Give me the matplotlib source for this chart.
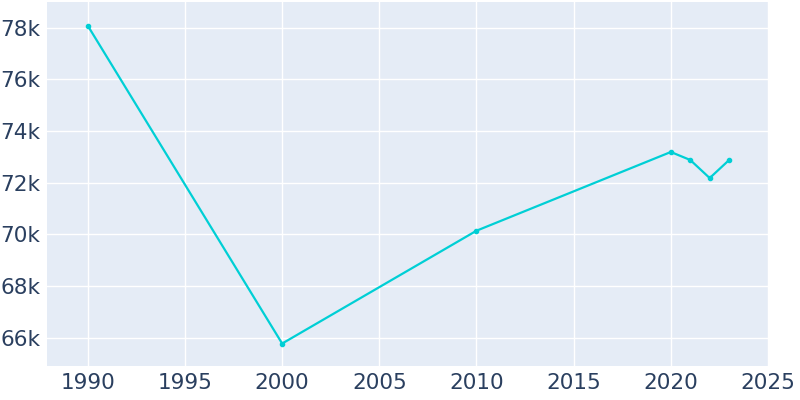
import matplotlib
matplotlib.use("Agg")
import matplotlib.pyplot as plt
from matplotlib.ticker import FuncFormatter

years = [1990, 2000, 2010, 2020, 2021, 2022, 2023]
population = [78080, 65770, 70140, 73190, 72880, 72180, 72880]

fig = plt.figure(figsize=(8, 4), dpi=100)
ax = fig.add_axes([47/800, 34/400, (768-47)/800, (366-2)/400])
ax.set_facecolor("#e5ecf6")
ax.plot(years, population, color="#00cfd5", lw=1.6, marker="o", ms=3)
ax.set_xlim(1987.9, 2025)
ax.set_ylim(64900, 79000)
ax.set_xticks(range(1990, 2026, 5))
ax.set_yticks(range(66000, 78001, 2000))
ax.yaxis.set_major_formatter(FuncFormatter(lambda v, p: f"{int(v/1000)}k"))
ax.grid(color="white", lw=1)
ax.set_axisbelow(True)
for s in ax.spines.values():
    s.set_visible(False)
ax.tick_params(length=0, labelsize=15.5, colors="#2a3f5f", pad=5)
fig.savefig("out.png")
